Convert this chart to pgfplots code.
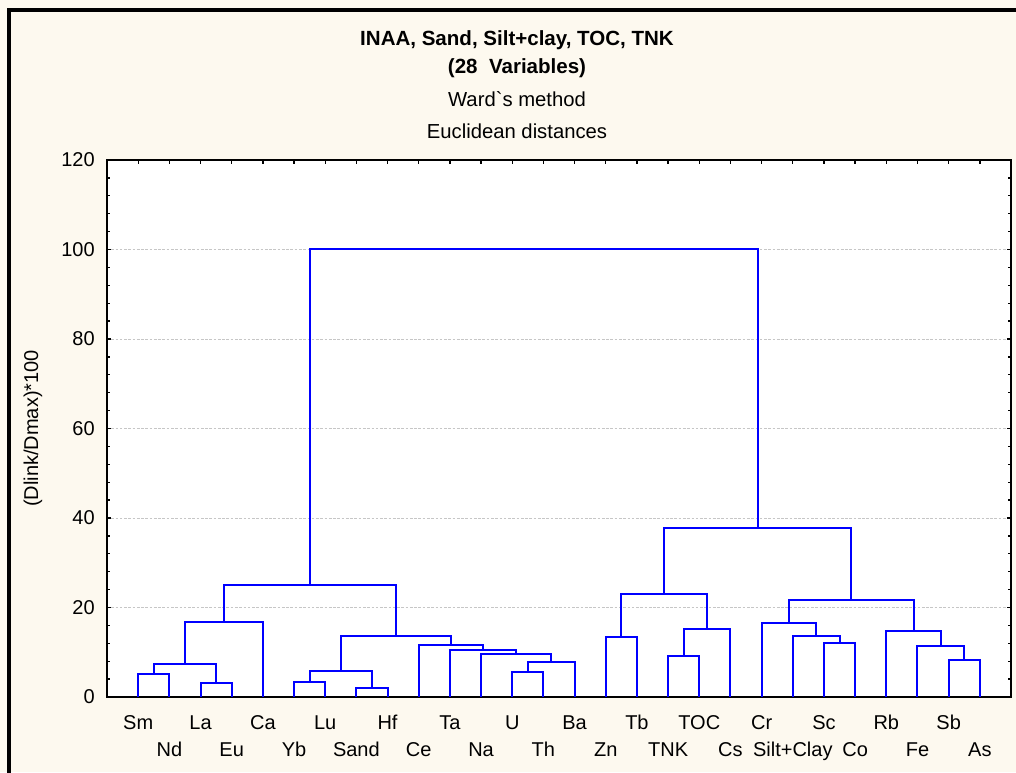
\documentclass[border=0pt]{standalone}
\usepackage{fontspec}
\setmainfont{Liberation Sans}
\newfontfamily\rawfont{Liberation Sans}[Ligatures=TeXOff]
\usepackage{pgfplots}
\pgfplotsset{compat=1.18}
\definecolor{paper}{HTML}{FDF9EF}
\definecolor{tree}{HTML}{0000FF}
\begin{document}
\begin{tikzpicture}
% page: 1016x772 px at 0.75pt/px
\fill[paper] (0,0) rectangle (762pt,579pt);
\path[use as bounding box] (0,0) rectangle (762pt,579pt);
\draw[line width=3pt] (6.75pt,-3pt) -- (6.75pt,571.5pt) -- (766pt,571.5pt);
\node[anchor=base,font=\fontsize{15.4}{18}\selectfont\bfseries] at (387.75pt,545pt) {INAA, Sand, Silt+clay, TOC, TNK};
\node[anchor=base,font=\fontsize{15.4}{18}\selectfont\bfseries] at (387.75pt,524pt) {(28\ \ Variables)};
\node[anchor=base,font=\rawfont\fontsize{15.2}{18}\selectfont] at (387.75pt,498.75pt) {Ward`s method};
\node[anchor=base,font=\fontsize{15.2}{18}\selectfont] at (387.75pt,474.75pt) {Euclidean distances};
\begin{axis}[
    at={(80.25pt,56.25pt)}, anchor=south west,
    scale only axis,
    width=678pt, height=402.75pt,
    xmin=0, xmax=29,
    ymin=0, ymax=120,
    axis background/.style={fill=white},
    axis line style={black, line width=1.3pt},
    tick style={black, line width=1pt},
    major tick length=3pt, minor tick length=2.2pt,
    tick align=inside,
    xtick pos=both, ytick pos=both,
    xticklabel pos=bottom, yticklabel pos=left,
    ytick={0,20,...,120},
    minor y tick num=4,
    xtick={1,3,...,27},
    xticklabels={Sm,La,Ca,Lu,Hf,Ta,U,Ba,Tb,TOC,Cr,Sc,Rb,Sb},
    extra x ticks={2,4,...,28},
    extra x tick labels={Nd,Eu,Yb,Sand,Ce,Na,Th,Zn,TNK,Cs,Silt+Clay,Co,Fe,As},
    extra x tick style={xticklabel style={yshift=-20pt}},
    tick label style={font=\fontsize{15}{18}\selectfont},
    /pgf/number format/assume math mode=true,
    xticklabel style={anchor=north, inner sep=0pt, text height=11pt, text depth=3pt, yshift=-13.2pt},
    yticklabel style={anchor=east, inner sep=0pt, xshift=-9pt},
    ymajorgrids=true,
    major grid style={gray!45, line width=0.6pt, dash pattern=on 2pt off 1.2pt},
    ylabel={(Dlink/Dmax)*100},
    ylabel style={at={(axis description cs:-0.0819,0.5)}, anchor=center, font=\fontsize{15}{18}\selectfont},
    cycle list={tree,solid,line width=1.5pt,mark=none,line join=miter\\},
]
% Sm..Ca
\addplot coordinates {(1,0) (1,5.1) (2,5.1) (2,0)};
\addplot coordinates {(3,0) (3,3.1) (4,3.1) (4,0)};
\addplot coordinates {(1.5,5.1) (1.5,7.4) (3.5,7.4) (3.5,3.1)};
\addplot coordinates {(2.5,7.4) (2.5,16.8) (5,16.8) (5,0)};
% Yb..Ba
\addplot coordinates {(6,0) (6,3.3) (7,3.3) (7,0)};
\addplot coordinates {(8,0) (8,2.0) (9,2.0) (9,0)};
\addplot coordinates {(6.5,3.3) (6.5,5.9) (8.5,5.9) (8.5,2.0)};
\addplot coordinates {(13,0) (13,5.5) (14,5.5) (14,0)};
\addplot coordinates {(13.5,5.5) (13.5,7.8) (15,7.8) (15,0)};
\addplot coordinates {(12,0) (12,9.6) (14.25,9.6) (14.25,7.8)};
\addplot coordinates {(11,0) (11,10.5) (13.125,10.5) (13.125,9.6)};
\addplot coordinates {(10,0) (10,11.6) (12.0625,11.6) (12.0625,10.5)};
\addplot coordinates {(7.5,5.9) (7.5,13.6) (11.03125,13.6) (11.03125,11.6)};
\addplot coordinates {(3.75,16.8) (3.75,25.0) (9.265625,25.0) (9.265625,13.6)};
% Zn..Cs
\addplot coordinates {(16,0) (16,13.3) (17,13.3) (17,0)};
\addplot coordinates {(18,0) (18,9.2) (19,9.2) (19,0)};
\addplot coordinates {(18.5,9.2) (18.5,15.1) (20,15.1) (20,0)};
\addplot coordinates {(16.5,13.3) (16.5,23.0) (19.25,23.0) (19.25,15.1)};
% Cr..As
\addplot coordinates {(23,0) (23,12.0) (24,12.0) (24,0)};
\addplot coordinates {(22,0) (22,13.7) (23.5,13.7) (23.5,12.0)};
\addplot coordinates {(21,0) (21,16.6) (22.75,16.6) (22.75,13.7)};
\addplot coordinates {(27,0) (27,8.3) (28,8.3) (28,0)};
\addplot coordinates {(26,0) (26,11.5) (27.5,11.5) (27.5,8.3)};
\addplot coordinates {(25,0) (25,14.8) (26.75,14.8) (26.75,11.5)};
\addplot coordinates {(21.875,16.6) (21.875,21.6) (25.875,21.6) (25.875,14.8)};
\addplot coordinates {(17.875,23.0) (17.875,37.8) (23.875,37.8) (23.875,21.6)};
% root
\addplot coordinates {(6.5078,25.0) (6.5078,100) (20.875,100) (20.875,37.8)};
\end{axis}
\end{tikzpicture}
\end{document}
